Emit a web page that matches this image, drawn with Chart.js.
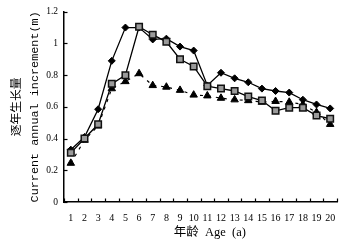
<!DOCTYPE html>
<html>
<head>
<meta charset="utf-8">
<script src="https://cdn.jsdelivr.net/npm/chart.js@4.4.1/dist/chart.umd.min.js"></script>
<style>
  html, body { margin: 0; padding: 0; background: #fff; }
  #wrap { width: 352px; height: 249px; position: relative; }
</style>
</head>
<body>
<div id="wrap"><canvas id="c" width="352" height="249"></canvas></div>
<script>
const ages = ['1','2','3','4','5','6','7','8','9','10','11','12','13','14','15','16','17','18','19','20'];
const seriesDiamond = [0.33,0.41,0.585,0.89,1.10,1.10,1.025,1.03,0.98,0.955,0.735,0.815,0.78,0.755,0.715,0.70,0.69,0.645,0.615,0.59];
const seriesSquare  = [0.31,0.40,0.49,0.745,0.80,1.105,1.055,1.01,0.90,0.855,0.73,0.715,0.70,0.665,0.64,0.575,0.595,0.595,0.545,0.525];
const seriesTriangle= [0.245,0.39,0.48,0.715,0.76,0.81,0.735,0.725,0.705,0.675,0.67,0.655,0.645,0.64,0.63,0.635,0.63,0.615,0.565,0.49];
const yTitle = ['逐年生长量', 'Current annual increment(m)'];
const xTitle = '      年龄  Age  (a)';

const insideTicks = {
  id: 'insideTicks',
  afterDatasetsDraw(chart) {
    const ctx = chart.ctx;
    const xs = chart.scales.x, ys = chart.scales.y;
    ctx.save();
    ctx.strokeStyle = '#000';
    ctx.lineWidth = 1.2;
    const n = ages.length;
    for (let i = 0; i <= n; i++) {
      let px;
      if (i === 0) px = xs.left;
      else if (i === n) px = xs.right;
      else px = (xs.getPixelForValue(i - 1) + xs.getPixelForValue(i)) / 2;
      px = Math.round(px) + 0.5;
      ctx.beginPath();
      ctx.moveTo(px, ys.bottom);
      ctx.lineTo(px, ys.bottom - 3.5);
      ctx.stroke();
    }
    ys.ticks.forEach(t => {
      const py = Math.round(ys.getPixelForValue(t.value)) + 0.5;
      ctx.beginPath();
      ctx.moveTo(xs.left, py);
      ctx.lineTo(xs.left + 3.5, py);
      ctx.stroke();
    });
    ctx.restore();
  }
};

new Chart(document.getElementById('c'), {
  type: 'line',
  data: {
    labels: ages,
    datasets: [
      {
        data: seriesDiamond,
        borderColor: '#000', borderWidth: 1.3,
        pointStyle: 'rectRot', pointRadius: 3.5,
        pointBackgroundColor: '#000', pointBorderColor: '#000', pointBorderWidth: 1,
        tension: 0, order: 1
      },
      {
        data: seriesSquare,
        borderColor: '#000', borderWidth: 1.3,
        pointStyle: 'rect', pointRadius: 4.6,
        pointBackgroundColor: '#9a9a9a', pointBorderColor: '#111', pointBorderWidth: 1.5,
        tension: 0, order: 0
      },
      {
        data: seriesTriangle,
        borderColor: '#000', borderWidth: 1.2, borderDash: [3, 5],
        pointStyle: 'triangle', pointRadius: 4.3,
        pointBackgroundColor: '#000', pointBorderColor: '#000', pointBorderWidth: 1,
        tension: 0, order: 2
      }
    ]
  },
  options: {
    responsive: false,
    animation: false,
    devicePixelRatio: 1,
    layout: { padding: { top: 10, right: 15, bottom: 0, left: 0 } },
    plugins: { legend: { display: false }, tooltip: { enabled: false } },
    scales: {
      x: {
        type: 'category',
        offset: true,
        grid: { display: false, drawTicks: false, offset: true },
        border: { display: true, color: '#000', width: 1.5 },
        ticks: { color: '#000', padding: 10, maxRotation: 0, autoSkip: false,
                 font: { family: '"Liberation Serif", serif', size: 10 } },
        title: { display: true, text: xTitle, color: '#000',
                 font: { family: '"Liberation Serif", "Noto Sans CJK SC", serif', size: 12.5, lineHeight: 1.2 },
                 padding: { top: 0, bottom: 8.5 } },
        afterFit(scale) { scale.height = 47; }
      },
      y: {
        min: 0, max: 1.2,
        grid: { display: false, drawTicks: false },
        border: { display: true, color: '#000', width: 1.5 },
        ticks: { stepSize: 0.2, color: '#000', padding: 6,
                 font: { family: '"Liberation Serif", serif', size: 9.5 },
                 callback: (v) => String(Number(Number(v).toFixed(1))) },
        title: { display: true, text: yTitle, color: '#000',
                 font: { family: '"Liberation Mono", "Noto Sans CJK SC", monospace', size: 11.8, lineHeight: 1.5 },
                 padding: { top: 8, bottom: 0 } },
        afterFit(scale) { scale.width = 64; }
      }
    }
  },
  plugins: [insideTicks]
});
</script>
</body>
</html>
